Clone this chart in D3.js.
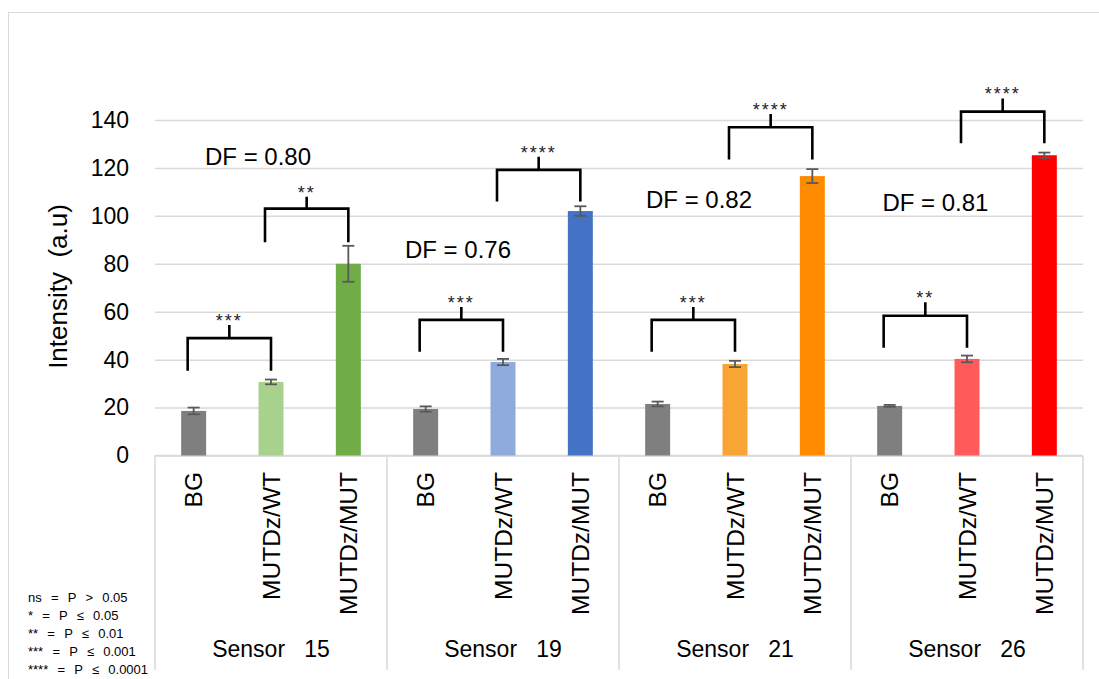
<!DOCTYPE html>
<html lang="en">
<head>
<meta charset="UTF-8">
<title>Sensor intensity</title>
<script src="https://cdnjs.cloudflare.com/ajax/libs/d3/7.8.5/d3.min.js"></script>
<style>
    body { margin: 0; padding: 0; background: #fff; }
    svg { display: block; font-family: "Liberation Sans", Arial, sans-serif; }
    text { white-space: pre; }
</style>
</head>
<body>
<div id="chart"></div>
<script>
// data
const groups = ["Sensor   15", "Sensor   19", "Sensor   21", "Sensor   26"];
const conditions = ["BG", "MUTDz/WT", "MUTDz/MUT"];
const means = [
    [18.6, 30.7, 80.0],
    [19.4, 39.0, 102.0],
    [21.5, 38.2, 116.6],
    [20.7, 40.3, 125.3]
];
const errors = [
    [1.4, 1.0, 7.5],
    [1.1, 1.3, 2.0],
    [1.0, 1.3, 2.9],
    [0.4, 1.4, 1.1]
];
const barColors = [
    ["#7f7f7f", "#a9d18e", "#70ad47"],
    ["#7f7f7f", "#8faadc", "#4472c4"],
    ["#7f7f7f", "#f9a536", "#ff8c00"],
    ["#7f7f7f", "#ff5b5b", "#ff0000"]
];
const yTicks = [0, 20, 40, 60, 80, 100, 120, 140];

// significance brackets: group, from bar, to bar, line level, leg foot, tick top, stars
const brackets = [
    [0, 0, 1, 49.0, 35.4, 54.5, "***"],
    [0, 1, 2, 103.0, 89.0, 108.0, "**"],
    [1, 0, 1, 56.6, 43.3, 62.0, "***"],
    [1, 1, 2, 119.2, 106.0, 124.7, "****"],
    [2, 0, 1, 56.6, 43.3, 62.0, "***"],
    [2, 1, 2, 137.0, 123.5, 142.5, "****"],
    [3, 0, 1, 58.3, 45.0, 63.9, "**"],
    [3, 1, 2, 143.5, 130.3, 149.0, "****"]
];

// DF labels: group, position within group (0-1), baseline value, text
const dfLabels = [
    [0, 0.444, 121.2, "DF = 0.80"],
    [1, 0.306, 82.3, "DF = 0.76"],
    [2, 0.345, 103.2, "DF = 0.82"],
    [3, 0.364, 102.1, "DF = 0.81"]
];

const sigLegend = [
    "ns  =  P  >  0.05",
    "*  =  P  \u2264  0.05",
    "**  =  P  \u2264  0.01",
    "***  =  P  \u2264  0.001",
    "****  =  P  \u2264  0.0001"
];

const width = 1099, height = 679;
const plot = { left: 155, right: 1083, top: 120, bottom: 455.5 };
const axisBottom = 670;

const svg = d3.select("#chart").append("svg")
    .attr("width", width)
    .attr("height", height)
    .attr("xml:space", "preserve");

// chart frame
svg.append("rect")
    .attr("x", 8.5).attr("y", 12.5)
    .attr("width", 1200).attr("height", 800)
    .attr("fill", "none")
    .attr("stroke", "#d9d9d9");

const y = d3.scaleLinear().domain([0, 140]).range([plot.bottom, plot.top]);
const x0 = d3.scaleBand().domain(d3.range(groups.length)).range([plot.left, plot.right]);
const x1 = d3.scaleBand().domain(d3.range(conditions.length)).range([0, x0.bandwidth()]);
const barW = x1.bandwidth() * 0.323;
const cx = (g, c) => x0(g) + x1(c) + x1.bandwidth() / 2;

// y axis + gridlines
const yAxis = svg.append("g")
    .attr("transform", `translate(${plot.left},0)`)
    .call(d3.axisLeft(y).tickValues(yTicks).tickSize(-(plot.right - plot.left)).tickPadding(26));
yAxis.select(".domain").remove();
yAxis.selectAll(".tick line").attr("stroke", "#d9d9d9").attr("stroke-width", 1.5);
yAxis.selectAll(".tick text")
    .attr("fill", "#000")
    .style("font-size", "23px");

svg.append("text")
    .attr("transform", "translate(58,286.5) rotate(-90)")
    .attr("text-anchor", "middle")
    .attr("dy", "0.35em")
    .style("font-size", "26px")
    .text("Intensity  (a.u)");

// x axis frame
svg.append("line")
    .attr("x1", plot.left).attr("x2", plot.right)
    .attr("y1", plot.bottom).attr("y2", plot.bottom)
    .attr("stroke", "#d9d9d9").attr("stroke-width", 1.5);
svg.selectAll(".sep")
    .data(d3.range(groups.length + 1))
    .join("line")
    .attr("class", "sep")
    .attr("x1", d => d < groups.length ? x0(d) : plot.right)
    .attr("x2", d => d < groups.length ? x0(d) : plot.right)
    .attr("y1", plot.bottom).attr("y2", axisBottom)
    .attr("stroke", "#d9d9d9").attr("stroke-width", 1.5);

// bars
const cells = [];
means.forEach((row, g) => row.forEach((v, c) => cells.push({ g, c, v, e: errors[g][c], color: barColors[g][c] })));

svg.selectAll(".bar")
    .data(cells)
    .join("rect")
    .attr("class", "bar")
    .attr("x", d => cx(d.g, d.c) - barW / 2)
    .attr("y", d => y(d.v))
    .attr("width", barW)
    .attr("height", d => y(0) - y(d.v))
    .attr("fill", d => d.color);

// error bars
const eb = svg.selectAll(".err").data(cells).join("g").attr("class", "err")
    .attr("stroke", "#595959").attr("stroke-width", 1.8);
eb.append("line")
    .attr("x1", d => cx(d.g, d.c)).attr("x2", d => cx(d.g, d.c))
    .attr("y1", d => y(d.v + d.e)).attr("y2", d => y(d.v - d.e));
eb.append("line")
    .attr("x1", d => cx(d.g, d.c) - 6).attr("x2", d => cx(d.g, d.c) + 6)
    .attr("y1", d => y(d.v + d.e)).attr("y2", d => y(d.v + d.e));
eb.append("line")
    .attr("x1", d => cx(d.g, d.c) - 6).attr("x2", d => cx(d.g, d.c) + 6)
    .attr("y1", d => y(d.v - d.e)).attr("y2", d => y(d.v - d.e));

// category labels
const catCells = [];
groups.forEach((_, g) => conditions.forEach((name, c) => catCells.push({ g, c, name })));
svg.selectAll(".cat")
    .data(catCells)
    .join("text")
    .attr("class", "cat")
    .attr("transform", d => `translate(${cx(d.g, d.c)},472) rotate(-90)`)
    .attr("text-anchor", "end")
    .attr("dy", "0.35em")
    .style("font-size", "24.5px")
    .text(d => d.name);

svg.selectAll(".grp")
    .data(groups)
    .join("text")
    .attr("class", "grp")
    .attr("x", (d, i) => x0(i) + x0.bandwidth() / 2)
    .attr("y", 657)
    .attr("text-anchor", "middle")
    .style("font-size", "23px")
    .text(d => d);

// significance brackets
const br = svg.selectAll(".br").data(brackets).join("g").attr("class", "br");
br.append("path")
    .attr("fill", "none")
    .attr("stroke", "#000")
    .attr("stroke-width", 2.6)
    .attr("d", d => {
        const xa = cx(d[0], d[1]) - 6, xb = cx(d[0], d[2]);
        const xm = (xa + xb) / 2;
        return `M${xa},${y(d[4])}V${y(d[3])}H${xb}V${y(d[4])}M${xm},${y(d[3])}V${y(d[5])}`;
    });
br.append("text")
    .attr("x", d => (cx(d[0], d[1]) - 6 + cx(d[0], d[2])) / 2)
    .attr("y", d => y(d[5]) + 2)
    .attr("text-anchor", "middle")
    .style("font-size", "18px")
    .style("letter-spacing", "2px")
    .attr("fill", "#222")
    .text(d => d[6]);

// DF annotations
svg.selectAll(".df")
    .data(dfLabels)
    .join("text")
    .attr("class", "df")
    .attr("x", d => x0(d[0]) + d[1] * x0.bandwidth())
    .attr("y", d => y(d[2]))
    .attr("text-anchor", "middle")
    .style("font-size", "24px")
    .text(d => d[3]);

// significance key
svg.selectAll(".key")
    .data(sigLegend)
    .join("text")
    .attr("class", "key")
    .attr("x", 28)
    .attr("y", (d, i) => 601.5 + i * 18.2)
    .style("font-size", "13px")
    .style("word-spacing", "1px")
    .text(d => d);
</script>
</body>
</html>
